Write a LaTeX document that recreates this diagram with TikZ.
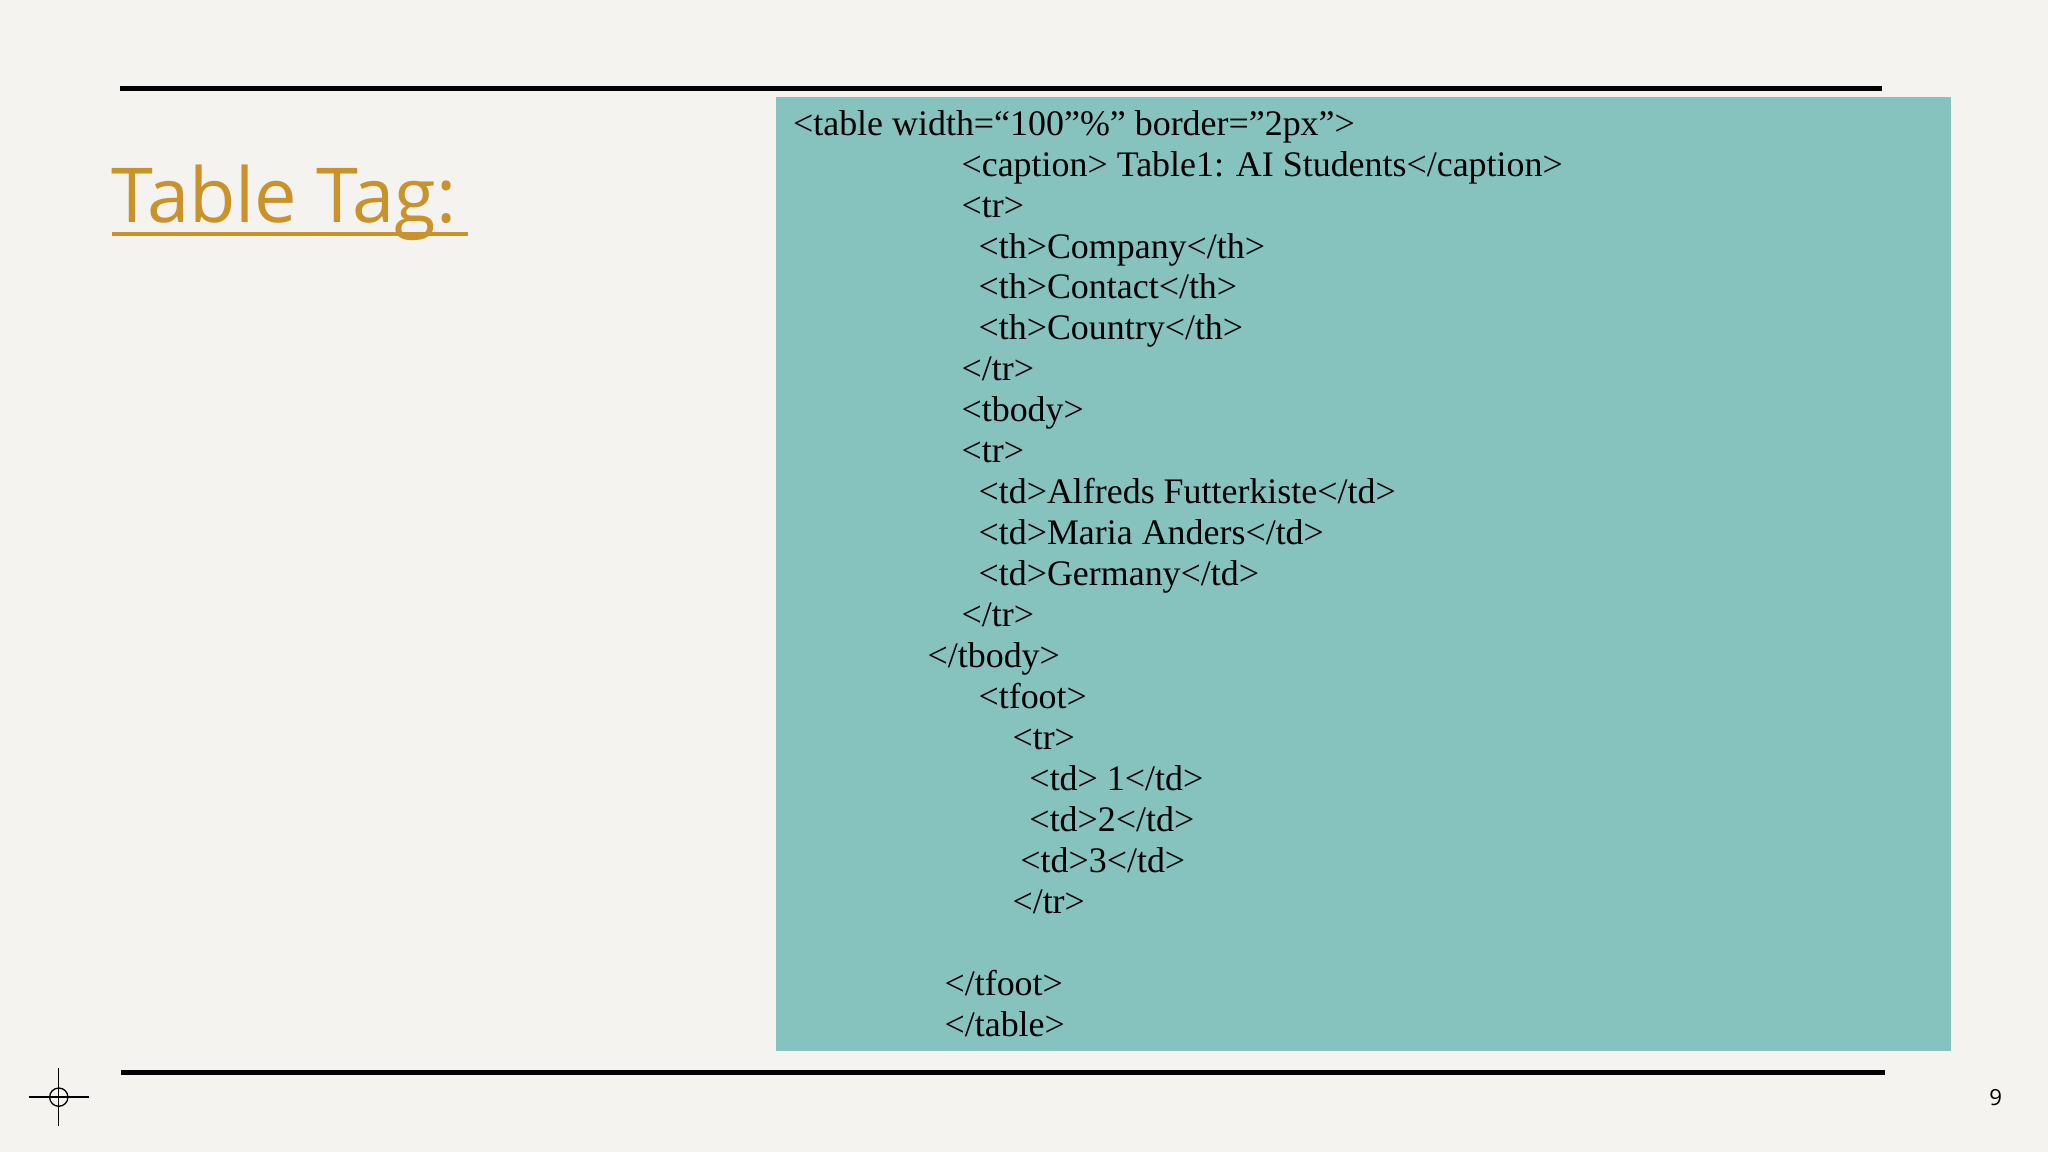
\documentclass[tikz,border=0pt]{standalone}
\usepackage{fontspec}
\setmainfont[Ligatures=NoCommon]{Liberation Serif}
\newfontfamily\titlefont{Open Sans}
\newcommand{\dq}{\symbol{34}}
\begin{document}
\begin{tikzpicture}[x=1pt,y=-1pt,
  code/.style={anchor=west,inner sep=0pt,font=\fontsize{27.5}{30}\selectfont},
  rule/.style={line width=4pt}]
\definecolor{bg}{HTML}{F4F3F0}
\definecolor{teal}{HTML}{86C3BF}
\definecolor{gold}{HTML}{C9922A}
\useasboundingbox[fill=bg] (0,0) rectangle (1568,882);
\draw[rule] (92,68) -- (1441,68);
\draw[rule] (93,821) -- (1443,821);
\fill[teal] (594,74) rectangle (1494,805);
\node[anchor=west,inner sep=0pt,text=gold,font=\titlefont\fontsize{58}{60}\selectfont] (title) at (85,155) {Table Tag:};
\draw[gold,line width=3pt] (86,179) -- (358,179);
\foreach \i/\x/\t in {
1/607/{<table width=“100”\%\dq{} border=\dq2px\dq>},
2/736/{<caption> Table1: AI Students</caption>},
3/736/{<tr>},
4/749/{<th>Company</th>},
5/749/{<th>Contact</th>},
6/749/{<th>Country</th>},
7/736/{</tr>},
8/736/{<tbody>},
9/736/{<tr>},
10/749/{<td>Alfreds Futterkiste</td>},
11/749/{<td>Maria Anders</td>},
12/749/{<td>Germany</td>},
13/736/{</tr>},
14/710/{</tbody>},
15/749/{<tfoot>},
16/775/{<tr>},
17/788/{<td> 1</td>},
18/788/{<td>2</td>},
19/781/{<td>3</td>},
20/775/{</tr>},
22/723/{</tfoot>},
23/723/{</table>}}
  \node[code,text height=19pt,text depth=6pt] (l\i) at (\x,{97+31.35*(\i-1)}) {\t};
\node[font=\titlefont\fontsize{17}{18}\selectfont] (pg) at (1528,840) {9};
\draw[line width=1pt] (22,840) -- (68,840) (45,818) -- (45,862);
\draw[line width=1pt] (45,840) circle (7);
\end{tikzpicture}
\end{document}
